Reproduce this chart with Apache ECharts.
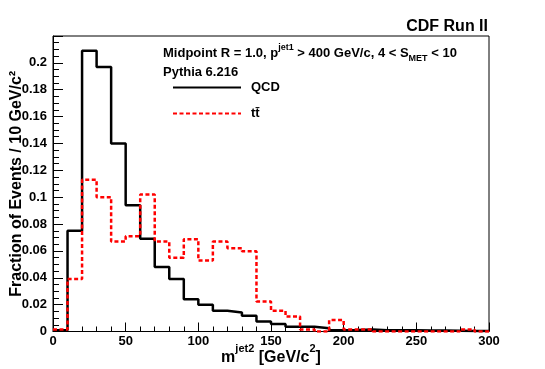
<!DOCTYPE html>
<html>
<head>
<meta charset="utf-8">
<script src="https://cdn.jsdelivr.net/npm/echarts@6/dist/echarts.min.js"></script>
<style>
  html, body { margin: 0; padding: 0; background: #fff; }
  #chart { width: 545px; height: 369px; }
</style>
</head>
<body>
<div id="chart"></div>
<script>
// lower edges of the 10 GeV/c^2 bins
const binLow = [0, 10, 20, 30, 40, 50, 60, 70, 80, 90, 100, 110, 120, 130, 140,
                150, 160, 170, 180, 190, 200, 210, 220, 230, 240, 250, 260, 270, 280, 290];
const binWidth = 10;

const qcd = [0.001, 0.075, 0.209, 0.197, 0.140, 0.094, 0.069, 0.048, 0.039, 0.024,
             0.020, 0.0154, 0.0142, 0.0117, 0.0075, 0.0055, 0.0035, 0.0035, 0.0025, 0.001,
             0.0012, 0.0015, 0.001, 0.001, 0.001, 0.0007, 0.0007, 0.0005, 0.0003, 0.0003];

const ttbar = [0.0015, 0.039, 0.113, 0.100, 0.067, 0.071, 0.102, 0.067, 0.055, 0.0687,
               0.0528, 0.067, 0.062, 0.0597, 0.0224, 0.0154, 0.0112, 0.0015, 0, 0.0085,
               0.0015, 0.0015, 0, 0, 0, 0, 0, 0, 0.0015, 0];

const seriesNames = ['QCD', 'tt\u0304'];

// step points: left edge of every bin, plus the closing right edge
function toSteps(vals) {
    let pts = binLow.map((x, i) => [x, vals[i]]);
    pts.push([binLow[binLow.length - 1] + binWidth, vals[vals.length - 1]]);
    return pts;
}

const FONT = '"Liberation Sans", Arial, Helvetica, sans-serif';

let chart = echarts.init(document.getElementById('chart'), null, {renderer: 'canvas'});

let option = {
    backgroundColor: '#fff',
    animation: false,
    grid: {
        left: 53, right: 56, top: 36, bottom: 37.5,
        outerBoundsMode: 'none', containLabel: false,
        show: true, borderColor: '#000', borderWidth: 1, backgroundColor: 'transparent'
    },
    title: [
        {
            text: 'CDF Run II',
            right: 52, top: 14,
            textStyle: {fontFamily: FONT, fontWeight: 'bold', fontSize: 16, color: '#000'}
        },
        {
            text: '{t|Midpoint R = 1.0, p}{s|jet1}{t| > 400 GeV/c, 4 < S}{u|MET}{t| < 10}',
            left: 158, top: 38,
            textStyle: {
                rich: {
                    t: {fontFamily: FONT, fontWeight: 'bold', fontSize: 13, color: '#000', lineHeight: 20, verticalAlign: 'middle'},
                    s: {fontFamily: FONT, fontWeight: 'bold', fontSize: 9, color: '#000', lineHeight: 20, verticalAlign: 'top', padding: [0, 0, 10, 0]},
                    u: {fontFamily: FONT, fontWeight: 'bold', fontSize: 9, color: '#000', lineHeight: 20, verticalAlign: 'bottom', padding: [8, 0, 0, 0]}
                }
            }
        },
        {
            text: 'Pythia 6.216',
            left: 158, top: 61,
            textStyle: {fontFamily: FONT, fontWeight: 'bold', fontSize: 13, color: '#000'}
        }
    ],
    legend: {
        data: seriesNames,
        orient: 'vertical',
        left: 167, top: 76,
        itemWidth: 68, itemHeight: 14, itemGap: 13,
        itemStyle: {opacity: 0},
        textStyle: {fontFamily: FONT, fontWeight: 'bold', fontSize: 13, color: '#000', padding: [0, 0, 0, 5]}
    },
    xAxis: {
        type: 'value',
        min: 0, max: 300, interval: 50,
        name: '{b|m}{p|jet2}{b| [GeV/c}{p|2}{b|]}',
        nameLocation: 'middle', nameGap: 12, nameMoveOverlap: false,
        nameTextStyle: {
            rich: {
                b: {fontFamily: FONT, fontWeight: 'bold', fontSize: 16, color: '#000', lineHeight: 22, verticalAlign: 'bottom'},
                p: {fontFamily: FONT, fontWeight: 'bold', fontSize: 11, color: '#000', lineHeight: 22, verticalAlign: 'top', padding: [0, 0, 8, 0]}
            }
        },
        axisLine: {lineStyle: {color: '#000', width: 1}},
        axisTick: {inside: true, length: 9, lineStyle: {color: '#000'}},
        minorTick: {show: true, splitNumber: 5, length: 5, lineStyle: {color: '#000'}},
        axisLabel: {fontFamily: FONT, fontWeight: 'bold', fontSize: 13, color: '#000', margin: 3},
        splitLine: {show: false}
    },
    yAxis: {
        type: 'value',
        min: 0, max: 0.22, interval: 0.02,
        name: 'Fraction of Events / 10 GeV/c\u00b2',
        nameLocation: 'middle', nameGap: 28, nameRotate: 90, nameMoveOverlap: false,
        nameTextStyle: {fontFamily: FONT, fontWeight: 'bold', fontSize: 16, color: '#000'},
        axisLine: {lineStyle: {color: '#000', width: 1}},
        axisTick: {inside: true, length: 10, lineStyle: {color: '#000'}},
        minorTick: {show: true, splitNumber: 4, length: 6, lineStyle: {color: '#000'}},
        axisLabel: {
            fontFamily: FONT, fontWeight: 'bold', fontSize: 13, color: '#000', margin: 6,
            showMaxLabel: false
        },
        splitLine: {show: false}
    },
    series: [
        {
            name: seriesNames[0],
            type: 'line',
            step: 'end',
            symbol: 'none',
            data: toSteps(qcd),
            lineStyle: {color: '#000', width: 2.5},
            itemStyle: {color: '#000'}
        },
        {
            name: seriesNames[1],
            type: 'line',
            step: 'end',
            symbol: 'none',
            data: toSteps(ttbar),
            lineStyle: {color: '#ff0000', width: 2.5, type: [4, 2.5]},
            itemStyle: {color: '#ff0000'}
        }
    ]
};

chart.setOption(option);
</script>
</body>
</html>
